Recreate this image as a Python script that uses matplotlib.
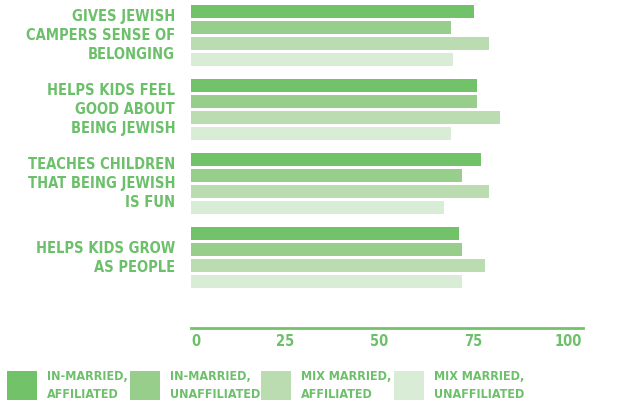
import matplotlib
matplotlib.use("Agg")
import matplotlib.pyplot as plt
from matplotlib.patches import Rectangle

categories = [
    "GIVES JEWISH\nCAMPERS SENSE OF\nBELONGING",
    "HELPS KIDS FEEL\nGOOD ABOUT\nBEING JEWISH",
    "TEACHES CHILDREN\nTHAT BEING JEWISH\nIS FUN",
    "HELPS KIDS GROW\nAS PEOPLE",
]
series_names = [
    "IN-MARRIED,\nAFFILIATED",
    "IN-MARRIED,\nUNAFFILIATED",
    "MIX MARRIED,\nAFFILIATED",
    "MIX MARRIED,\nUNAFFILIATED",
]
in_married_affiliated = [75, 76, 77, 71]
in_married_unaffiliated = [69, 76, 72, 72]
mix_married_affiliated = [79, 82, 79, 78]
mix_married_unaffiliated = [69.5, 69, 67, 72]
ticks = [0, 25, 50, 75, 100]

series = [in_married_affiliated, in_married_unaffiliated,
          mix_married_affiliated, mix_married_unaffiliated]
colors = ["#72c269", "#98ce8b", "#bbdcb0", "#d9ecd5"]
text_color = "#6cc06a"
font = dict(family="DejaVu Sans", stretch="condensed", weight="bold")

W, H = 644, 407
fig = plt.figure(figsize=(W / 100, H / 100), dpi=100)
# axes spans x 191..583 px, y 0..328 px
ax = fig.add_axes([191 / W, 1 - 328 / H, (583 - 191) / W, 328 / H])

group_step = 4.625
for s, vals in enumerate(series):
    ys = [g * group_step + s for g in range(len(categories))]
    ax.barh(ys, vals, height=0.8, color=colors[s], linewidth=0)

ax.set_xlim(0, 104)
ax.set_ylim(19.78, -0.72)

for side in ["top", "right", "left"]:
    ax.spines[side].set_visible(False)
ax.spines["bottom"].set_color(colors[0])
ax.spines["bottom"].set_linewidth(2)

ax.set_xticks(ticks)
ax.set_xticklabels([str(t) for t in ticks], fontsize=10.5,
                   color=text_color, **font)
ax.tick_params(axis="x", length=0, pad=4)
ax.get_xticklabels()[0].set_horizontalalignment("left")
ax.set_yticks([])

# category labels, right-aligned left of the bars
for g, label in enumerate(categories):
    yc = g * group_step + 1.5
    ax.text(-4.2, yc, label, ha="right", va="center", fontsize=10.5,
            color=text_color, linespacing=1.33, multialignment="right",
            **font)

# legend: squares with two-line labels
legend_x = [7, 130, 261, 394]
for x, name, c in zip(legend_x, series_names, colors):
    fig.add_artist(Rectangle((x / W, 1 - 400 / H), 30 / W, 29 / H,
                             transform=fig.transFigure, color=c, lw=0))
    fig.text((x + 40) / W, 1 - 386 / H, name, ha="left", va="center",
             fontsize=9, color=text_color, linespacing=1.5, **font)

fig.savefig("out.png", dpi=100)
